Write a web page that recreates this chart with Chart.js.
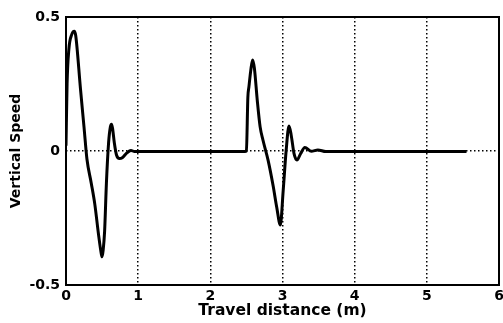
<!DOCTYPE html>
<html lang="en">
<head>
    <meta charset="UTF-8">
    <title>Vertical Speed</title>
    <script src="https://cdn.jsdelivr.net/npm/chart.js"></script>
    <style>
        body { margin: 0; background: #fff; }
    </style>
</head>
<body>
    <canvas id="speedChart" width="503" height="323"></canvas>

    <script>
        // travel distance (m) and vertical speed
        var distance = [0, 0.015, 0.04, 0.08, 0.115, 0.135, 0.2, 0.25, 0.29, 0.35, 0.4, 0.45, 0.49, 0.5,
            0.515, 0.535, 0.56, 0.59, 0.615, 0.63, 0.645, 0.67, 0.7, 0.74, 0.78, 0.84, 0.9, 0.95, 1.0, 2.48,
            2.5, 2.52, 2.535, 2.56, 2.585, 2.61, 2.65, 2.69, 2.73, 2.8, 2.87, 2.92, 2.97,
            3.01, 3.05, 3.09, 3.12, 3.16, 3.2, 3.25, 3.31, 3.4, 3.49, 3.6, 5.55];
        var speed = [0.02, 0.25, 0.38, 0.435, 0.447, 0.43, 0.234, 0.088, -0.03, -0.12, -0.2, -0.31, -0.385, -0.395,
            -0.37, -0.3, -0.12, 0.03, 0.09, 0.1, 0.085, 0.03, -0.015, -0.028, -0.025, -0.008, 0.002, -0.002, -0.002, -0.002,
            0.0, 0.2, 0.24, 0.3, 0.34, 0.31, 0.19, 0.09, 0.04, -0.034, -0.13, -0.21, -0.276,
            -0.146, 0.0, 0.093, 0.06, -0.01, -0.034, -0.01, 0.013, -0.001, 0.004, -0.002, -0.002];

        var xTicks = [0, 1, 2, 3, 4, 5, 6];
        var yTicks = [-0.5, 0, 0.5];

        var points = [];
        for (var i = 0; i < distance.length; i++) {
            points.push({ x: distance[i], y: speed[i] });
        }

        var fontFamily = '"DejaVu Sans", Arial, sans-serif';

        // plot frame drawn round the chart area
        var framePlugin = {
            id: 'frame',
            afterDatasetsDraw: function(chart) {
                var a = chart.chartArea;
                var c = chart.ctx;
                c.save();
                c.strokeStyle = '#000';
                c.lineWidth = 2;
                c.setLineDash([]);
                c.strokeRect(a.left, a.top, a.right - a.left, a.bottom - a.top);
                c.restore();
            }
        };

        var ctx = document.getElementById('speedChart').getContext('2d');
        var speedChart = new Chart(ctx, {
            type: 'line',
            data: {
                datasets: [{
                    data: points,
                    borderColor: '#000',
                    borderWidth: 3,
                    pointRadius: 0,
                    fill: false,
                    borderJoinStyle: 'round',
                    cubicInterpolationMode: 'monotone'
                }]
            },
            options: {
                responsive: false,
                animation: false,
                layout: { padding: { left: 0, right: 4, top: 17, bottom: 0 } },
                plugins: {
                    legend: { display: false },
                    tooltip: { enabled: false }
                },
                scales: {
                    x: {
                        type: 'linear',
                        min: xTicks[0],
                        max: xTicks[xTicks.length - 1],
                        afterBuildTicks: function(scale) {
                            scale.ticks = xTicks.map(function(v) { return { value: v }; });
                        },
                        afterFit: function(scale) {
                            scale.height = 38;
                            scale.paddingLeft = 0;
                            scale.paddingRight = 0;
                        },
                        border: { display: false, dash: [1.5, 2.5] },
                        grid: {
                            drawTicks: false,
                            lineWidth: 1.5,
                            color: function(c) {
                                var v = c.tick ? c.tick.value : null;
                                return (v === 0 || v === 6) ? 'rgba(0,0,0,0)' : '#000';
                            }
                        },
                        ticks: {
                            padding: 3,
                            color: '#000',
                            maxRotation: 0,
                            font: { family: fontFamily, size: 14, weight: 'bold' }
                        },
                        title: {
                            display: true,
                            text: 'Travel distance (m)',
                            color: '#000',
                            padding: { top: 0, bottom: 3 },
                            font: { family: fontFamily, size: 15.5, weight: 'bold' }
                        }
                    },
                    y: {
                        type: 'linear',
                        min: yTicks[0],
                        max: yTicks[yTicks.length - 1],
                        afterBuildTicks: function(scale) {
                            scale.ticks = yTicks.map(function(v) { return { value: v }; });
                        },
                        afterFit: function(scale) {
                            scale.width = 66;
                            scale.paddingTop = 0;
                            scale.paddingBottom = 0;
                        },
                        border: { display: false, dash: [1.5, 2.5] },
                        grid: {
                            drawTicks: false,
                            lineWidth: 1.5,
                            color: function(c) {
                                return (c.tick && c.tick.value === 0) ? '#000' : 'rgba(0,0,0,0)';
                            }
                        },
                        ticks: {
                            padding: 6,
                            color: '#000',
                            font: { family: fontFamily, size: 14, weight: 'bold' },
                            callback: function(v) { return String(v); }
                        },
                        title: {
                            display: true,
                            text: 'Vertical Speed',
                            color: '#000',
                            padding: { top: 8, bottom: 0 },
                            font: { family: fontFamily, size: 14, weight: 'bold' }
                        }
                    }
                }
            },
            plugins: [framePlugin]
        });
    </script>
</body>
</html>
